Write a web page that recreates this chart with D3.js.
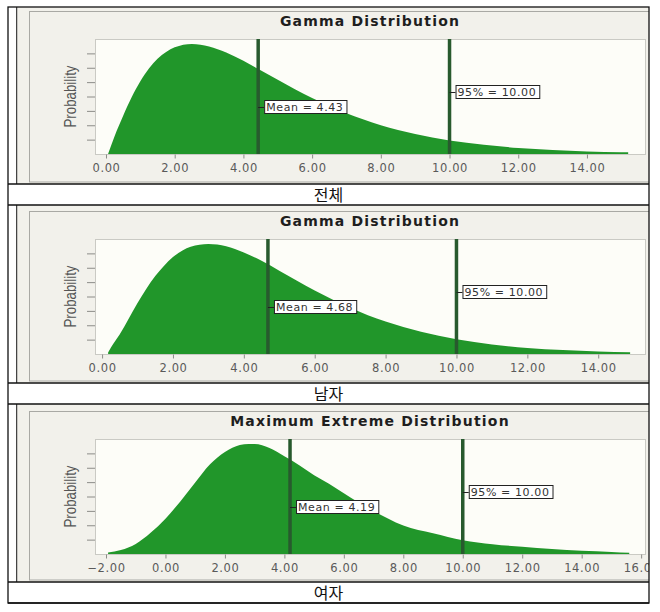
<!DOCTYPE html>
<html>
<head>
<meta charset="utf-8">
<script src="https://cdn.jsdelivr.net/npm/d3@7"></script>
<style>
  body { margin: 0; background: #fff; }
  svg text { font-family: "DejaVu Sans", Verdana, sans-serif; }
</style>
</head>
<body>
<div id="chart"></div>
<script>
// ---- data ----
const groupLabels = ["전체", "남자", "여자"];
const titles = ["Gamma Distribution", "Gamma Distribution", "Maximum Extreme Distribution"];
const means = [4.43, 4.68, 4.19];
const upper95 = [10.00, 10.00, 10.00];

const ticksTotal = [0, 2, 4, 6, 8, 10, 12, 14];
const ticksMale = [0, 2, 4, 6, 8, 10, 12, 14];
const ticksFemale = [-2, 0, 2, 4, 6, 8, 10, 12, 14, 16];
const probTicks = [0.005, 0.01, 0.015, 0.02, 0.025, 0.03, 0.035];

// 전체 (gamma)
const xTotal = [0.06, 0.25, 0.5, 0.75, 1, 1.25, 1.5, 1.75, 2, 2.5, 3, 3.5, 4, 4.5, 5, 5.5, 6, 6.5, 7, 7.5, 8, 9, 10, 11, 12, 13, 14, 15, 15.2];
const pTotal = [0, 0.0062, 0.0133, 0.0198, 0.0253, 0.0297, 0.0331, 0.0355, 0.0371, 0.0383, 0.0374, 0.0353, 0.0324, 0.0291, 0.0258, 0.0225, 0.0195, 0.0167, 0.0142, 0.0120, 0.0100, 0.0070, 0.0047, 0.0032, 0.0021, 0.0014, 0.0009, 0.0006, 0.0006];

// 남자 (gamma)
const xMale = [0.17, 0.25, 0.5, 0.75, 1, 1.25, 1.5, 1.75, 2, 2.5, 3, 3.5, 4, 4.5, 5, 5.5, 6, 6.5, 7, 7.5, 8, 9, 10, 11, 12, 13, 14, 14.9];
const pMale = [0.0005, 0.0023, 0.0069, 0.0123, 0.0177, 0.0227, 0.0271, 0.0307, 0.0337, 0.0373, 0.0383, 0.0375, 0.0353, 0.0324, 0.0290, 0.0255, 0.0221, 0.0190, 0.0161, 0.0135, 0.0113, 0.0077, 0.0051, 0.0033, 0.0021, 0.0014, 0.0009, 0.0006];

// 여자 (maximum extreme)
const xFemale = [-1.93, -1.5, -1, -0.5, 0, 0.5, 1, 1.5, 2, 2.5, 2.8, 3, 3.5, 4, 4.5, 5, 5.5, 6, 6.5, 7, 7.5, 8, 9, 10, 11, 12, 13, 14, 15, 15.6];
const pFemale = [0.0005, 0.0014, 0.0035, 0.0074, 0.0123, 0.0183, 0.0249, 0.0312, 0.0355, 0.0379, 0.0383, 0.0383, 0.0369, 0.0340, 0.0309, 0.0274, 0.0244, 0.0211, 0.0179, 0.0150, 0.0123, 0.0099, 0.0072, 0.0048, 0.0034, 0.0025, 0.0017, 0.0011, 0.0007, 0.0004];

// ---- layout ----
const W = 660, H = 612;
const tableL = 8, tableR = 649, imgL = 16;
const plotL = 95, plotR = 645, plotH = 115;

const rows = [
  {top: 7,   split: 184, bottom: 205, plotTop: 39,  domain: [-0.32, 15.69], ticks: ticksTotal,  xs: xTotal,  ps: pTotal},
  {top: 205, split: 383, bottom: 404, plotTop: 239, domain: [-0.2, 15.32],  ticks: ticksMale,   xs: xMale,   ps: pMale},
  {top: 404, split: 582, bottom: 603, plotTop: 439, domain: [-2.37, 16.13], ticks: ticksFemale, xs: xFemale, ps: pFemale}
];

const svg = d3.select("#chart").append("svg")
    .attr("width", W).attr("height", H)
    .attr("viewBox", `0 0 ${W} ${H}`);

const fmt = d3.format(".2f");

rows.forEach((r, i) => {
    const clipId = "clip" + i;
    svg.append("clipPath").attr("id", clipId)
      .append("rect")
        .attr("x", imgL).attr("y", r.top)
        .attr("width", tableR - imgL).attr("height", r.split - r.top);

    const g = svg.append("g").attr("clip-path", `url(#${clipId})`);

    // chart image background
    g.append("rect")
        .attr("x", imgL).attr("y", r.top)
        .attr("width", tableR - imgL).attr("height", r.split - r.top)
        .attr("fill", "#f2f1eb");
    g.append("line")
        .attr("x1", imgL + 0.5).attr("x2", imgL + 0.5)
        .attr("y1", r.top).attr("y2", r.split)
        .attr("stroke", "#444").attr("stroke-width", 1.5);

    // panel frame
    g.append("rect")
        .attr("x", 29.5).attr("y", r.plotTop - 27.5)
        .attr("width", 640).attr("height", (r.split - 2) - (r.plotTop - 27.5))
        .attr("fill", "none").attr("stroke", "#a9a9a4");

    const x = d3.scaleLinear().domain(r.domain).range([plotL, plotR]);
    const y = d3.scaleLinear().domain([0, 0.04]).range([r.plotTop + plotH, r.plotTop]);

    // plot area
    g.append("rect")
        .attr("x", plotL + 0.5).attr("y", r.plotTop + 0.5)
        .attr("width", plotR - plotL).attr("height", plotH)
        .attr("fill", "#fdfdf8").attr("stroke", "#cacac4");

    const pts = r.xs.map((d, k) => ({x: d, p: r.ps[k]}));
    const area = d3.area()
        .x(d => x(d.x))
        .y0(y(0))
        .y1(d => y(d.p))
        .curve(d3.curveMonotoneX);

    g.append("path")
        .datum(pts)
        .attr("d", area)
        .attr("fill", "#21962a");

    // y ticks (no labels)
    const yAxis = g.append("g")
        .attr("transform", `translate(${plotL},0)`)
        .call(d3.axisLeft(y).tickValues(probTicks).tickSize(8).tickFormat(""));
    yAxis.select(".domain").remove();
    yAxis.selectAll(".tick line").attr("stroke", "#8c8c88");

    // x axis
    const xAxis = g.append("g")
        .attr("transform", `translate(0,${r.plotTop + plotH + 0.5})`)
        .call(d3.axisBottom(x).tickValues(r.ticks).tickFormat(fmt).tickSize(4).tickPadding(5));
    xAxis.select(".domain").remove();
    xAxis.selectAll(".tick line").attr("stroke", "#8c8c88");
    xAxis.selectAll(".tick text")
        .attr("fill", "#5a5a5a")
        .style("font-size", "11.5px")
        .style("letter-spacing", "0.6px")
        .style("font-family", "'DejaVu Sans', sans-serif");

    // marker lines with labels
    const markers = [
        {v: means[i], text: "Mean = " + fmt(means[i]), dy: 68},
        {v: upper95[i], text: "95% = " + fmt(upper95[i]), dy: 53}
    ];
    markers.forEach(m => {
        const mx = x(m.v);
        g.append("line")
            .attr("x1", mx).attr("x2", mx)
            .attr("y1", r.plotTop).attr("y2", r.plotTop + plotH)
            .attr("stroke", "#285a2e").attr("stroke-width", 3.5);
        const cy = r.plotTop + m.dy;
        g.append("line")
            .attr("x1", mx).attr("x2", mx + 6)
            .attr("y1", cy + 0.5).attr("y2", cy + 0.5)
            .attr("stroke", "#222");
        const t = g.append("text")
            .attr("x", mx + 8).attr("y", cy + 4)
            .attr("fill", "#333")
            .style("font-size", "11px")
            .style("letter-spacing", "0.6px")
            .text(m.text);
        const w = t.node().getComputedTextLength();
        g.insert("rect", () => t.node())
            .attr("x", mx + 6.5).attr("y", cy - 6.5)
            .attr("width", w + 5).attr("height", 13)
            .attr("fill", "#fff").attr("stroke", "#222");
    });

    // title
    g.append("text")
        .attr("x", (plotL + plotR) / 2).attr("y", r.plotTop - 13)
        .attr("text-anchor", "middle")
        .attr("fill", "#1e1e1e")
        .style("font-size", "14px")
        .style("font-weight", "bold")
        .style("letter-spacing", "1.2px")
        .text(titles[i]);

    // y label
    g.append("text")
        .attr("transform", `translate(76,${r.plotTop + plotH / 2}) rotate(-90)`)
        .attr("text-anchor", "middle")
        .attr("fill", "#555")
        .attr("textLength", 62)
        .attr("lengthAdjust", "spacingAndGlyphs")
        .style("font-family", "'Liberation Sans', Arial, sans-serif")
        .style("font-size", "17px")
        .text("Probability");

    // group label row
    svg.append("text")
        .attr("x", (tableL + tableR) / 2).attr("y", (r.split + r.bottom) / 2 + 6)
        .attr("text-anchor", "middle")
        .attr("fill", "#111")
        .style("font-family", "'Noto Sans CJK KR', sans-serif")
        .style("font-size", "16px")
        .text(groupLabels[i]);
});

// table borders
const border = svg.append("g").attr("stroke", "#111").attr("stroke-width", 1.3).attr("fill", "none");
border.append("rect")
    .attr("x", tableL).attr("y", rows[0].top)
    .attr("width", tableR - tableL).attr("height", rows[2].bottom - rows[0].top);
rows.forEach(r => {
    border.append("line").attr("x1", tableL).attr("x2", tableR).attr("y1", r.split).attr("y2", r.split);
    border.append("line").attr("x1", tableL).attr("x2", tableR).attr("y1", r.bottom).attr("y2", r.bottom);
});
</script>
</body>
</html>
